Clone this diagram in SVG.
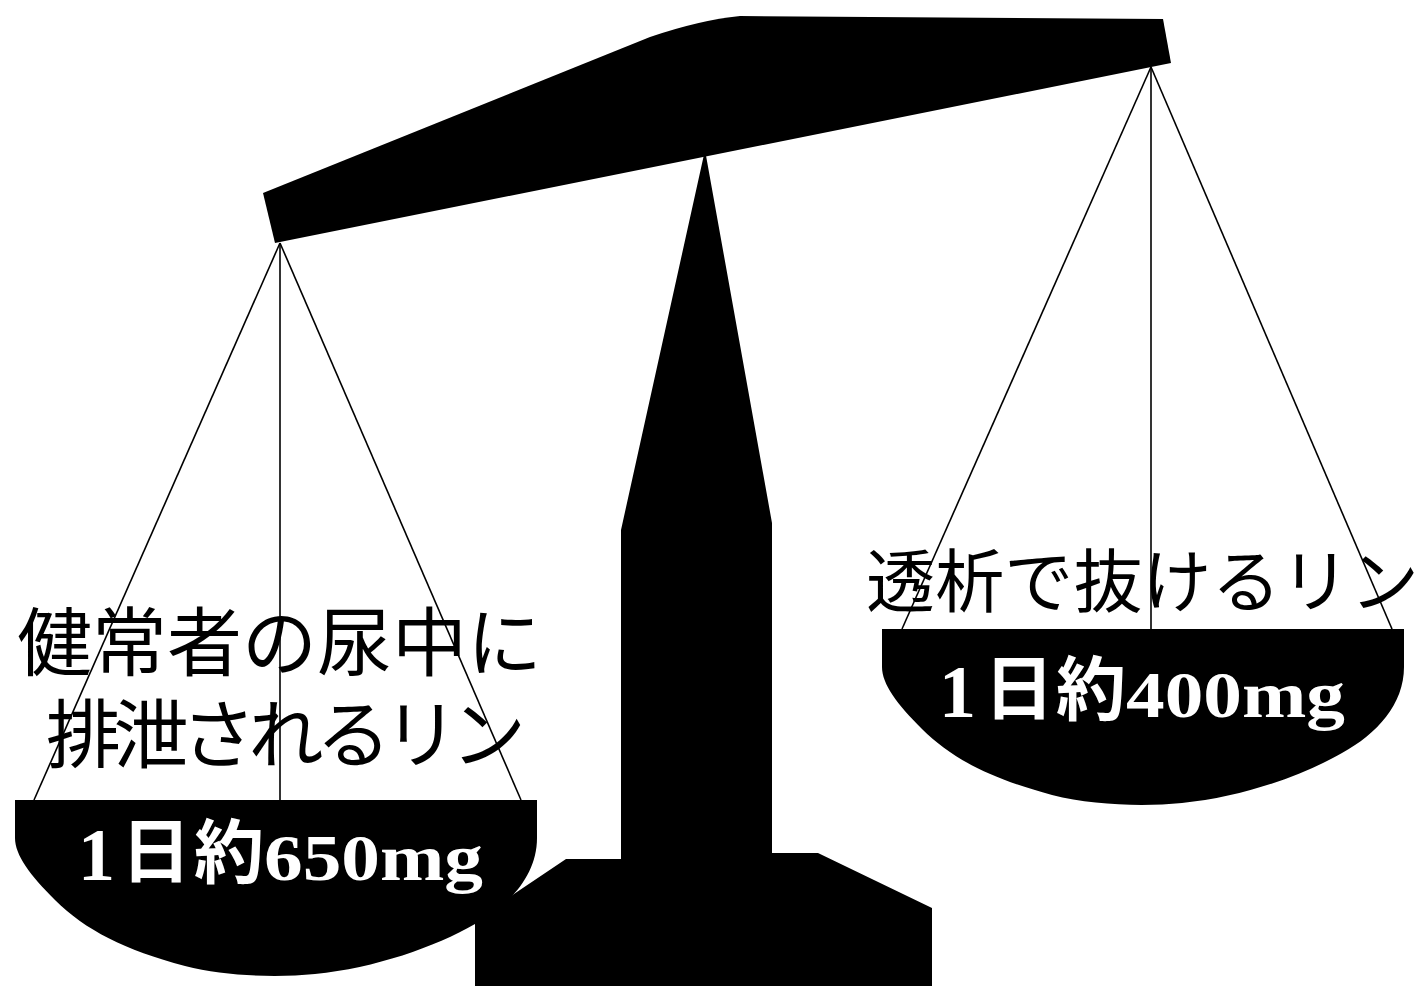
<svg xmlns="http://www.w3.org/2000/svg" width="1424" height="986" viewBox="0 0 1424 986">
  <defs>
    <style>
      .solid { fill: #000; stroke: none; }
      .string { stroke: #000; stroke-width: 1.6; fill: none; }
      .caption { font-family: "Noto Sans CJK JP", "Noto Sans CJK SC", sans-serif; fill: #000; }
      .num { font-family: "Liberation Serif", serif; font-weight: bold; fill: #fff; }
      .kanji { font-family: "Noto Sans CJK JP", "Noto Sans CJK SC", sans-serif; font-weight: bold; fill: #fff; }
    </style>
    <!-- bowl of a pan, origin at its top-left corner -->
    <path id="bowl" d="M0,0 H522 V38 C522,75 495,105 460,124 C420,147 360,168 300,174 C260,178 210,176 170,166 C110,150 70,130 40,100 C15,75 0,55 0,38 Z"/>
  </defs>

  <rect width="1424" height="986" fill="#fff"/>

  <!-- stand: tapered pillar on a stepped foot -->
  <g id="stand">
    <path class="solid" d="M705,150 L772,523 V853 H818 L932,908 V986 H475 V920 L566,859 H621 V530 Z"/>
  </g>

  <!-- tilted beam -->
  <g id="beam">
    <path class="solid" d="M263,193 L650,37 Q700,20 740,16 L1163,19 L1171,63 L275,243 Z"/>
  </g>

  <!-- hanging strings -->
  <g id="connectors">
    <line class="string" x1="280" y1="243" x2="34" y2="800"/>
    <line class="string" x1="280" y1="243" x2="280" y2="800"/>
    <line class="string" x1="280" y1="243" x2="521" y2="800"/>
    <line class="string" x1="1151" y1="67" x2="902" y2="629"/>
    <line class="string" x1="1151" y1="67" x2="1151" y2="629"/>
    <line class="string" x1="1151" y1="67" x2="1392" y2="629"/>
  </g>

  <!-- left pan: urinary excretion -->
  <g id="pan-left">
    <use href="#bowl" class="solid" transform="translate(15,800)"/>
    <text class="num" x="78" y="880" font-size="74">1</text>
    <text class="kanji" x="156" y="877" font-size="70" text-anchor="middle">日</text>
    <text class="kanji" x="229" y="878" font-size="70" text-anchor="middle">約</text>
    <text class="num" x="264" y="880" font-size="66" textLength="219" lengthAdjust="spacingAndGlyphs">650mg</text>
  </g>
  <g id="label-left">
    <text class="caption" font-size="75">
      <tspan x="17" y="670">健常者の尿中に</tspan>
      <tspan x="46" y="762" letter-spacing="-7.5">排泄されるリン</tspan>
    </text>
  </g>

  <!-- right pan: removal by dialysis -->
  <g id="pan-right">
    <use href="#bowl" class="solid" transform="translate(882,629)"/>
    <text class="num" x="939" y="717" font-size="74">1</text>
    <text class="kanji" x="1019" y="714" font-size="70" text-anchor="middle">日</text>
    <text class="kanji" x="1091" y="715" font-size="70" text-anchor="middle">約</text>
    <text class="num" x="1126" y="717" font-size="66" textLength="219" lengthAdjust="spacingAndGlyphs">400mg</text>
  </g>
  <g id="label-right">
    <text class="caption" x="866" y="607" font-size="69" textLength="553">透析で抜けるリン</text>
  </g>
</svg>
